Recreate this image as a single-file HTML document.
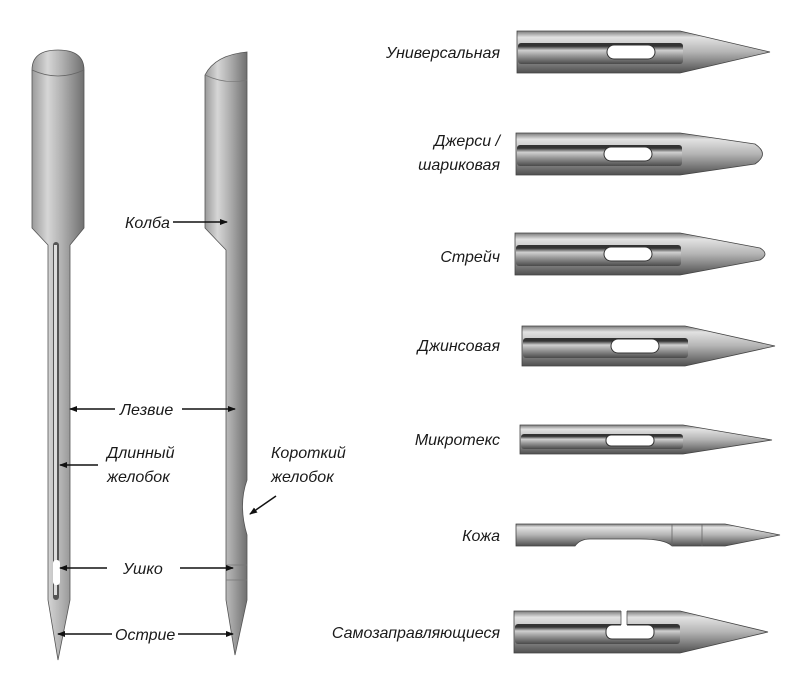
<!DOCTYPE html>
<html><head><meta charset="utf-8"><style>
html,body{margin:0;padding:0;background:#fff;}
svg{display:block}
text{font-family:"Liberation Sans","DejaVu Sans",sans-serif;font-style:italic;font-size:16px;fill:#1a1a1a}
</style></head><body>
<svg width="800" height="680" viewBox="0 0 800 680" xmlns="http://www.w3.org/2000/svg">
<defs>
<linearGradient id="hg" x1="0" y1="0" x2="1" y2="0">
<stop offset="0" stop-color="#9a9a9a"/><stop offset="0.3" stop-color="#d6d6d6"/><stop offset="0.6" stop-color="#adadad"/><stop offset="1" stop-color="#707070"/>
</linearGradient>
<linearGradient id="vg" x1="0" y1="0" x2="0" y2="1">
<stop offset="0" stop-color="#7a7a7a"/><stop offset="0.15" stop-color="#e2e2e2"/><stop offset="0.5" stop-color="#b4b4b4"/><stop offset="1" stop-color="#505050"/>
</linearGradient>
<linearGradient id="gg" x1="0" y1="0" x2="0" y2="1">
<stop offset="0" stop-color="#333"/><stop offset="0.15" stop-color="#333"/><stop offset="0.35" stop-color="#d0d0d0"/><stop offset="0.6" stop-color="#9a9a9a"/><stop offset="1" stop-color="#4a4a4a"/>
</linearGradient>
<marker id="ar" markerWidth="8" markerHeight="8" refX="7" refY="4" orient="auto" markerUnits="userSpaceOnUse"><path d="M0,1 L8,4 L0,7 Z" fill="#111"/></marker>
</defs>

<!-- Needle 1 -->
<path d="M32,70 Q32,50 58,50 Q84,50 84,70 L84,228 L70,245 L70,600 L58,660 L48,600 L48,245 L32,228 Z" fill="url(#hg)" stroke="#555" stroke-width="0.8"/>
<path d="M32,70 Q58,82 84,70" fill="none" stroke="#666" stroke-width="0.8"/>
<rect x="53" y="242" width="6" height="358" rx="3" fill="#555"/>
<rect x="54" y="245" width="3" height="350" fill="#ddd"/>
<rect x="53" y="560" width="7" height="25" rx="3" fill="#fff"/>

<!-- Needle 2 -->
<path d="M205,75 Q215,55 247,52 L247,480 Q238,505 247,535 L247,600 L235,655 L226,600 L226,250 L205,228 Z" fill="url(#hg)" stroke="#555" stroke-width="0.8"/>
<path d="M205,75 Q226,85 247,80" fill="none" stroke="#777" stroke-width="0.7"/>
<path d="M226,565 L247,565 M226,580 L247,580" stroke="#777" stroke-width="0.8"/>

<!-- Left labels -->
<text x="125" y="228">Колба</text>
<line x1="173" y1="222" x2="227" y2="222" stroke="#111" stroke-width="1.5" marker-end="url(#ar)"/>
<text x="120" y="415">Лезвие</text>
<line x1="115" y1="409" x2="70" y2="409" stroke="#111" stroke-width="1.5" marker-end="url(#ar)"/>
<line x1="182" y1="409" x2="235" y2="409" stroke="#111" stroke-width="1.5" marker-end="url(#ar)"/>
<text x="107" y="458">Длинный</text>
<text x="107" y="482">желобок</text>
<line x1="98" y1="465" x2="60" y2="465" stroke="#111" stroke-width="1.5" marker-end="url(#ar)"/>
<text x="271" y="458">Короткий</text>
<text x="271" y="482">желобок</text>
<line x1="276" y1="496" x2="250" y2="514" stroke="#111" stroke-width="1.5" marker-end="url(#ar)"/>
<text x="123" y="574">Ушко</text>
<line x1="107" y1="568" x2="60" y2="568" stroke="#111" stroke-width="1.5" marker-end="url(#ar)"/>
<line x1="180" y1="568" x2="233" y2="568" stroke="#111" stroke-width="1.5" marker-end="url(#ar)"/>
<text x="115" y="640">Острие</text>
<line x1="112" y1="634" x2="58" y2="634" stroke="#111" stroke-width="1.5" marker-end="url(#ar)"/>
<line x1="178" y1="634" x2="233" y2="634" stroke="#111" stroke-width="1.5" marker-end="url(#ar)"/>

<!-- Right needles -->
<g transform="translate(0,52)">
<path d="M517,-21 L680,-21 L770,0 L680,21 L517,21 Z" fill="url(#vg)" stroke="#444" stroke-width="0.8"/>
<rect x="518" y="-9" width="165" height="21" rx="3" fill="url(#gg)"/>
<rect x="607" y="-7" width="48" height="14" rx="7" fill="#fff" stroke="#333"/>
</g>
<g transform="translate(0,154)">
<path d="M516,-21 L680,-21 L755,-10 Q770,0 755,10 L680,21 L516,21 Z" fill="url(#vg)" stroke="#444" stroke-width="0.8"/>
<rect x="517" y="-9" width="165" height="21" rx="3" fill="url(#gg)"/>
<rect x="604" y="-7" width="48" height="14" rx="7" fill="#fff" stroke="#333"/>
</g>
<g transform="translate(0,254)">
<path d="M515,-21 L680,-21 L760,-6 Q770,0 760,6 L680,21 L515,21 Z" fill="url(#vg)" stroke="#444" stroke-width="0.8"/>
<rect x="516" y="-9" width="165" height="21" rx="3" fill="url(#gg)"/>
<rect x="604" y="-7" width="48" height="14" rx="7" fill="#fff" stroke="#333"/>
</g>
<g transform="translate(0,346)">
<path d="M522,-20 L685,-20 L775,0 L685,20 L522,20 Z" fill="url(#vg)" stroke="#444" stroke-width="0.8"/>
<rect x="523" y="-8" width="165" height="20" rx="3" fill="url(#gg)"/>
<rect x="611" y="-7" width="48" height="14" rx="7" fill="#fff" stroke="#333"/>
</g>
<g transform="translate(0,440)">
<path d="M520,-15 L683,-15 L772,0 L683,14 L520,14 Z" fill="url(#vg)" stroke="#444" stroke-width="0.8"/>
<rect x="521" y="-6" width="162" height="15" rx="3" fill="url(#gg)"/>
<rect x="606" y="-5" width="48" height="11" rx="5" fill="#fff" stroke="#333"/>
</g>
<g transform="translate(0,535)">
<path d="M516,-11 L725,-11 L780,0 L725,11 L672,11 Q665,4 640,4 L590,4 Q580,4 575,11 L516,11 Z" fill="url(#vg)" stroke="#444" stroke-width="0.8"/>
<path d="M672,-11 L672,11 M702,-11 L702,11" stroke="#666" stroke-width="0.8"/>
</g>
<g transform="translate(0,632)">
<path d="M514,-21 L680,-21 L768,0 L680,21 L514,21 Z" fill="url(#vg)" stroke="#444" stroke-width="0.8"/>
<rect x="515" y="-8" width="165" height="20" rx="3" fill="url(#gg)"/>
<rect x="606" y="-7" width="48" height="14" rx="6" fill="#fff" stroke="#333"/>
<rect x="621" y="-22" width="6" height="16" fill="#fff"/>
<path d="M621,-21 L621,-7 M627,-21 L627,-7" stroke="#555" stroke-width="0.8"/>
</g>

<text x="500" y="58" text-anchor="end">Универсальная</text>
<text x="500" y="146" text-anchor="end">Джерси /</text>
<text x="500" y="170" text-anchor="end">шариковая</text>
<text x="500" y="262" text-anchor="end">Стрейч</text>
<text x="500" y="351" text-anchor="end">Джинсовая</text>
<text x="500" y="445" text-anchor="end">Микротекс</text>
<text x="500" y="541" text-anchor="end">Кожа</text>
<text x="500" y="638" text-anchor="end">Самозаправляющиеся</text>
</svg>
</body></html>
